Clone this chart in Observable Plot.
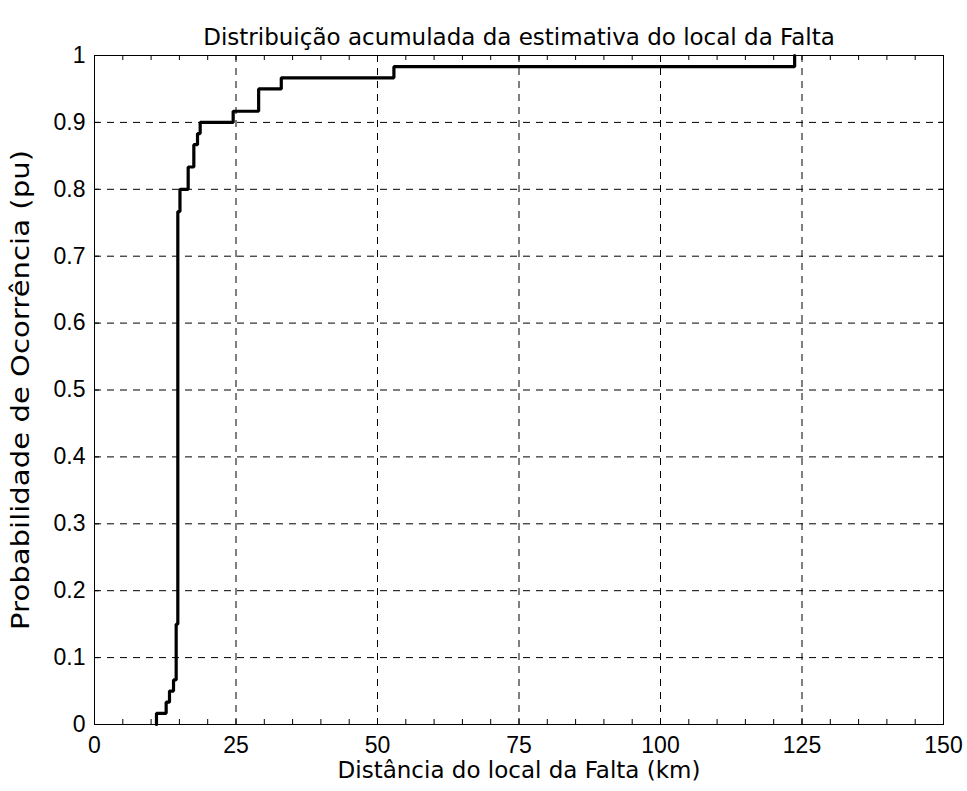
<!DOCTYPE html>
<html>
<head>
<meta charset="utf-8">
<script src="https://cdn.jsdelivr.net/npm/d3@7"></script>
<script src="https://cdn.jsdelivr.net/npm/@observablehq/plot@0.6"></script>
<style>
  html, body { margin: 0; padding: 0; background: #fff; }
  #chart svg { display: block; }
</style>
</head>
<body>
<div id="chart"></div>
<script>
// Step positions of the empirical CDF (km) and cumulative probability after each step (pu)
const stepKm = [10.95, 12.66, 13.25, 13.96, 14.43, 14.72, 15.1, 16.55, 17.55, 18.2, 18.67, 24.5, 29.0, 33.0, 52.9, 123.7];
const stepProb = [0.0167, 0.0333, 0.05, 0.0667, 0.15, 0.7667, 0.8, 0.8333, 0.8667, 0.8833, 0.9, 0.9167, 0.95, 0.9667, 0.9833, 1];

const xTicks = [0, 25, 50, 75, 100, 125, 150];
const xMinorTicks = [5, 10, 15, 20, 30, 35, 40, 45, 55, 60, 65, 70, 80, 85, 90, 95, 105, 110, 115, 120, 130, 135, 140, 145];
const xGrid = [25, 50, 75, 100, 125];
const yTicks = [0, 0.1, 0.2, 0.3, 0.4, 0.5, 0.6, 0.7, 0.8, 0.9, 1];
const yGrid = [0.1, 0.2, 0.3, 0.4, 0.5, 0.6, 0.7, 0.8, 0.9];

const titleText = "Distribuição acumulada da estimativa do local da Falta";
const xLabelText = "Distância do local da Falta (km)";
const yLabelText = "Probabilidade de Ocorrência (pu)";

const W = 967, H = 791;
const mL = 94, mR = 24, mT = 55, mB = 67;
const plotW = W - mL - mR, plotH = H - mT - mB;
const tickLen = 5;
const tickFont = "'Liberation Sans', Arial, Helvetica, sans-serif";
const labelFont = "'DejaVu Sans', Verdana, sans-serif";
const tickFs = 23;
const labelFs = 23;
const yLabelFs = 25;
const yLabelLength = 480;

const cdf = [{km: stepKm[0], p: 0}].concat(stepKm.map((k, i) => ({km: k, p: stepProb[i]})));

const chart = Plot.plot({
  width: W,
  height: H,
  marginLeft: mL, marginRight: mR, marginTop: mT, marginBottom: mB,
  style: {fontFamily: tickFont, fontSize: tickFs + "px", color: "black", background: "white"},
  x: {domain: [0, 150]},
  y: {domain: [0, 1]},
  marks: [
    Plot.ruleX(xGrid, {x: d => d, stroke: "black", strokeWidth: 1, strokeDasharray: "7,6"}),
    Plot.ruleY(yGrid, {y: d => d, stroke: "black", strokeWidth: 1, strokeDasharray: "7,6"}),
    // inward ticks: bottom and top
    Plot.ruleX(xTicks.concat(xMinorTicks), {x: d => d, stroke: "black", insetTop: plotH - tickLen}),
    Plot.ruleX(xTicks.concat(xMinorTicks), {x: d => d, stroke: "black", insetBottom: plotH - tickLen}),
    // inward ticks: left and right
    Plot.ruleY(yTicks, {y: d => d, stroke: "black", insetRight: plotW - tickLen}),
    Plot.ruleY(yTicks, {y: d => d, stroke: "black", insetLeft: plotW - tickLen}),
    Plot.axisX(xTicks, {tickSize: 0, tickPadding: 12, fontSize: tickFs, tickFormat: d => String(d), label: null}),
    Plot.axisY(yTicks, {tickSize: 0, tickPadding: 9, fontSize: tickFs, tickFormat: d => String(d), label: null}),
    Plot.line(cdf, {x: "km", y: "p", curve: "step-after", stroke: "black", strokeWidth: 3.2, strokeLinejoin: "miter"}),
    Plot.frame({stroke: "black", strokeWidth: 1}),
    Plot.text([titleText], {frameAnchor: "top", dy: -27, fontSize: labelFs, fontFamily: labelFont, fill: "black"}),
    Plot.text([xLabelText], {frameAnchor: "bottom", dy: 53, fontSize: labelFs, fontFamily: labelFont, fill: "black"}),
    Plot.text([yLabelText], {frameAnchor: "left", dx: -74, rotate: -90, textAnchor: "middle", fontSize: yLabelFs, fontFamily: labelFont, fill: "black"})
  ]
});
// stretch the y-axis title along its baseline, as in the reference rendering
d3.select(chart).selectAll("text")
  .filter(function() { return this.textContent === yLabelText; })
  .attr("textLength", yLabelLength)
  .attr("lengthAdjust", "spacingAndGlyphs");
document.getElementById("chart").appendChild(chart);
</script>
</body>
</html>
